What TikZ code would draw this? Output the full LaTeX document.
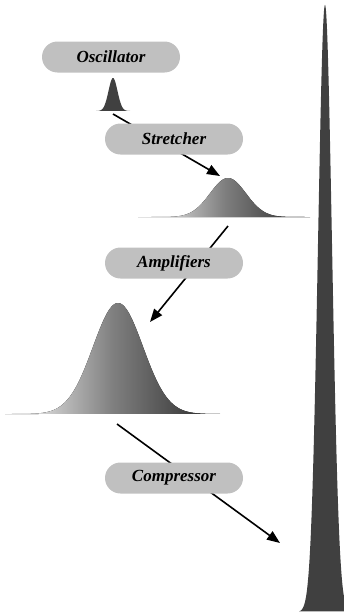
\documentclass[tikz,border=0pt]{standalone}
\usepackage{fontspec}
\setmainfont{Liberation Serif}
\usetikzlibrary{arrows.meta}
\definecolor{pillgray}{HTML}{C0C0C0}
\definecolor{pulsedark}{HTML}{404040}
\tikzset{
  pill/.style={fill=pillgray, rounded corners=15.5pt, minimum width=138pt, minimum height=31pt,
    inner sep=0pt, font=\fontsize{17pt}{20pt}\selectfont\bfseries\itshape},
  flow/.style={line width=1.6pt, -{Triangle[length=13pt,width=10pt]}},
  plainflow/.style={line width=1.6pt},
  gradpulse/.style={left color=white, right color=black!85, middle color=black!50}
}
\begin{document}
\begin{tikzpicture}[x=1pt,y=-1pt]
\useasboundingbox (0,0) rectangle (344,616);
% pulses
\fill[pulsedark] plot[domain=-17:17,samples=80] ({113+\x},{111-33*exp(-(\x*\x)/(2*4.5*4.5))}) -- cycle;
\fill[gradpulse] plot[domain=-90:82,samples=150] ({228+\x},{217-39*exp(-(\x*\x)/(2*18*18))}) -- cycle;
\fill[gradpulse] plot[domain=-113:102,samples=200] ({118+\x},{414-111*exp(-(\x*\x)/(2*25*25))}) -- cycle;
\fill[pulsedark] plot[domain=-26:26,samples=200] ({325+\x},{612-607*exp(-(\x*\x)/(2*7*7))}) -- cycle;
% connector end points
\coordinate (p1) at (113,114);
\coordinate (p2in) at (220,176);
\coordinate (p2) at (228,226);
\coordinate (p3in) at (150,322);
\coordinate (p3) at (117,424);
\coordinate (p4in) at (280,543);
\draw[flow] (p1) -- (p2in);
\draw[flow] (p2) -- (p3in);
\draw[flow] (p3) -- (p4in);
% stage labels
\node[pill] (osc) at (111,57) {Oscillator};
\node[pill] (str) at (174,139) {Stretcher};
\node[pill] (amp) at (174,263) {Amplifiers};
\node[pill] (comp) at (174,478) {Compressor};
\end{tikzpicture}
\end{document}
